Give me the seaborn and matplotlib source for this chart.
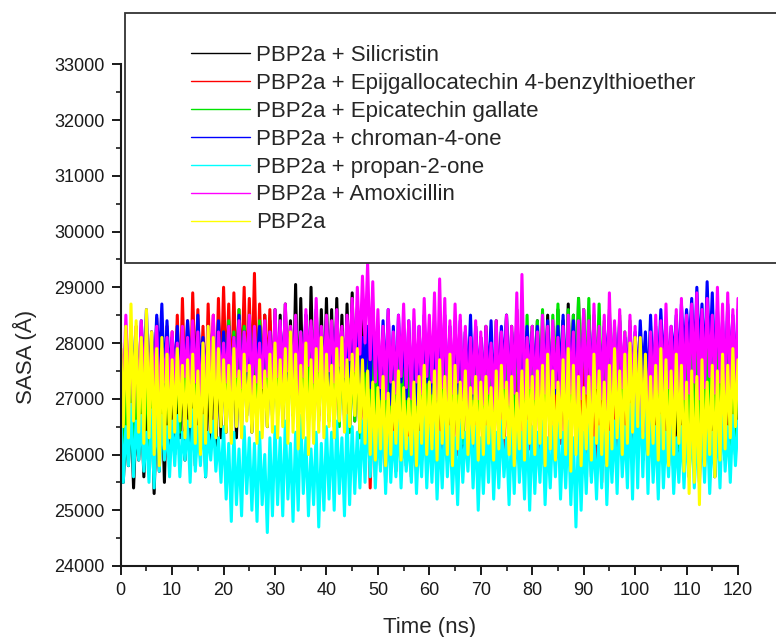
import numpy as np
import pandas as pd
import seaborn as sns
import matplotlib
matplotlib.use("Agg")
import matplotlib.pyplot as plt
from matplotlib.lines import Line2D
from matplotlib.patches import Rectangle
from matplotlib.ticker import MultipleLocator

# ---------------- data ----------------
labels = ["PBP2a + Silicristin",
          "PBP2a + Epijgallocatechin 4-benzylthioether",
          "PBP2a + Epicatechin gallate",
          "PBP2a + chroman-4-one",
          "PBP2a + propan-2-one",
          "PBP2a + Amoxicillin",
          "PBP2a"]
colors = ["#000000", "#FF0000", "#00E400", "#0000FF", "#00FFFF", "#FF00FF", "#FFFF00"]

x_ticks = list(range(0, 121, 10))
y_ticks = list(range(24000, 33001, 1000))

# each trajectory: upper excursions sampled at whole ns, lower excursions at half ns
sil_hi = [26800, 26500, 26900, 26600, 27000, 26800, 27100, 26900, 27200, 27400, 27600,
          27500, 27700, 27600, 27800, 27700, 27900, 27800, 28000, 27900, 28100,
          28000, 28200, 28100, 28300, 28200, 28400, 28300, 28500, 28400, 28600,
          28500, 28700, 28400, 29050, 28800, 28500, 29000, 28400, 28600, 28800,
          28600, 28800, 28500, 28700, 28900, 28600, 28400, 28200, 28000, 27800,
          27700, 27900, 27600, 27800, 27500, 27700, 27900, 27600, 27800, 27700,
          27900, 27700, 28000, 27800, 28100, 27900, 28200, 28000, 28300, 28100,
          28300, 28100, 28400, 28200, 28500, 28300, 28600, 28400, 28200, 28300,
          28400, 28200, 28500, 28300, 28600, 28400, 28700, 28500, 28800, 28600,
          28500, 28300, 28400, 28100, 28300, 28000, 28200, 27900, 28100, 27800,
          27700, 27500, 27800, 27600, 27400, 27700, 27500, 27300, 27600, 27400,
          27200, 27500, 27300, 27100, 27400, 27200, 27500, 27300, 27600, 27400]
sil_lo = [25500, 25800, 25400, 25900, 25600, 26000, 25300, 25700, 25500, 26100,
          26000, 26300, 25900, 26200, 25800, 26100, 25600, 26200, 26000, 26300,
          26400, 26600, 26300, 26500, 26700, 26400, 26600, 26800, 26500, 26700,
          26800, 26600, 26900, 26700, 26500, 26800, 26600, 26900, 26700, 26800,
          26900, 26700, 27000, 26800, 27100, 26900, 26700, 26500, 26300, 26100,
          26000, 26200, 25900, 26100, 26300, 26000, 26200, 25900, 26100, 26000,
          26200, 26000, 26300, 26100, 26400, 26200, 26000, 26300, 26100, 26200,
          26400, 26200, 26500, 26300, 26600, 26400, 26200, 26500, 26300, 26400,
          26600, 26400, 26700, 26500, 26800, 26600, 26400, 26700, 26500, 26600,
          26500, 26300, 26600, 26400, 26200, 26500, 26300, 26100, 26400, 26200,
          26100, 25900, 26200, 26000, 25700, 26100, 25800, 25600, 25900, 25700,
          25600, 25800, 25500, 25900, 25700, 25600, 25800, 25900, 26100, 26000]

egc_hi = [27900, 28200, 28000, 28300, 28100, 27900, 28200, 28450, 28100, 28300, 28200,
          28500, 28800, 28400, 28900, 28600, 28300, 28700, 28500, 28800, 29000,
          28700, 28900, 28600, 29000, 28800, 29250, 28700, 28500, 28600, 28300,
          28200, 28000, 28300, 28100, 27900, 28200, 28000, 28300, 28100, 27900,
          28100, 27900, 28200, 28000, 28300, 28100, 27800, 27600, 27400, 27500,
          27300, 27600, 27400, 27200, 27500, 27300, 27600, 27400, 27700, 27500,
          27800, 27600, 27900, 27700, 28000, 27800, 27600, 27900, 27700, 27800,
          28000, 27800, 28100, 27900, 27700, 28000, 27800, 28100, 27900, 28200,
          28000, 28300, 28100, 27900, 28200, 28000, 28300, 28100, 27900, 28000,
          27800, 27600, 27900, 27700, 27500, 27800, 28000, 27700, 27900, 27800,
          27600, 27900, 27700, 27500, 27800, 28000, 27700, 27900, 27600, 27800,
          27700, 27900, 27600, 27800, 28000, 27700, 27900, 27600, 27800, 27700]
egc_lo = [26200, 26500, 26300, 26600, 26400, 26700, 26500, 26800, 26600, 26900,
          27000, 26800, 27100, 26900, 27200, 27000, 26800, 27100, 26900, 27200,
          27300, 27000, 27200, 27400, 27100, 27300, 27000, 27200, 27400, 27100,
          26900, 27100, 26800, 27000, 26700, 26900, 27100, 26800, 26600, 26800,
          26700, 26500, 26800, 26600, 26400, 26600, 26300, 26000, 25400, 25600,
          25800, 25500, 25900, 25700, 26000, 25800, 25600, 26000, 25900, 26100,
          26000, 25800, 26100, 25900, 26200, 26000, 26300, 26100, 25900, 26200,
          26100, 26300, 26000, 26200, 25900, 26100, 26300, 26000, 26200, 26100,
          26200, 26000, 26300, 26100, 25900, 26200, 26000, 26300, 26100, 26000,
          25800, 25600, 25900, 25500, 25800, 25700, 26000, 26200, 26000, 26300,
          26200, 26400, 26100, 26300, 26000, 26200, 26400, 26100, 26300, 26200,
          26100, 26300, 26000, 26200, 26400, 26100, 26300, 26000, 26200, 26100]

ecg_hi = [27000, 27300, 27600, 27400, 27800, 27500, 27700, 27900, 27600, 27800, 28000,
          27900, 28100, 27800, 28000, 28200, 27900, 28100, 28300, 28000, 28200,
          28400, 28200, 28600, 28300, 28500, 28200, 28400, 28100, 28000, 28200,
          27900, 28100, 27800, 28000, 28200, 27900, 28100, 27800, 28000, 27900,
          28100, 27900, 28200, 28000, 27800, 28100, 27900, 28000, 27800, 27900,
          27700, 27900, 27600, 27800, 28000, 27700, 27900, 27600, 27800, 27700,
          27900, 27700, 28000, 27800, 27600, 27900, 27700, 28000, 27800, 27900,
          28100, 27900, 28200, 28000, 28300, 28100, 28400, 28200, 28500, 28300,
          28400, 28600, 28300, 28500, 28700, 28400, 28600, 28500, 28800, 28600,
          28800, 28500, 28700, 28400, 28600, 28300, 28500, 28200, 28400, 28100,
          28200, 28000, 28300, 28100, 27900, 28200, 28000, 28300, 28100, 27900,
          28000, 27800, 28100, 27900, 28200, 28000, 27800, 28100, 27900, 28000]
ecg_lo = [25700, 25900, 26200, 26000, 26300, 26100, 26400, 26200, 26500, 26300,
          26600, 26400, 26700, 26500, 26800, 26600, 26900, 26700, 27000, 26800,
          27100, 26900, 27200, 27000, 27300, 27100, 26900, 27200, 27000, 26800,
          26700, 26900, 26600, 26800, 26500, 26700, 26900, 26600, 26800, 26700,
          26600, 26800, 26500, 26700, 26400, 26600, 26300, 26500, 26200, 26400,
          26300, 26100, 26400, 26200, 26500, 26300, 26100, 26400, 26200, 26300,
          26400, 26200, 26500, 26300, 26100, 26400, 26200, 26500, 26300, 26400,
          26500, 26700, 26400, 26600, 26800, 26500, 26700, 26900, 26600, 26800,
          26900, 27100, 26800, 27000, 27200, 26900, 27100, 26800, 27000, 27200,
          27100, 26900, 27200, 27000, 26800, 27100, 26900, 26700, 26900, 26600,
          26500, 26700, 26400, 26600, 26300, 26500, 26200, 26400, 26100, 26300,
          26200, 26000, 26300, 26100, 26400, 26200, 26000, 26300, 26100, 26200]

chr_hi = [27600, 28100, 28300, 27900, 28400, 28600, 28200, 28500, 28700, 28400, 28100,
          28300, 28000, 28400, 28200, 28500, 28100, 28300, 28000, 28400, 28200,
          28300, 28100, 28500, 28200, 28400, 28000, 28300, 28100, 28200, 28400,
          28300, 28500, 28100, 28400, 28200, 28500, 28300, 28600, 28200, 28400,
          28300, 28500, 28200, 28400, 28600, 28300, 28100, 28300, 28500, 28200,
          28400, 28600, 28300, 28500, 28200, 28400, 28100, 28300, 28500, 28200,
          28400, 28200, 28500, 28300, 28100, 28400, 28200, 28500, 28300, 28100,
          28200, 28400, 28100, 28300, 28500, 28200, 28400, 28100, 28300, 28200,
          28300, 28100, 28400, 28200, 28300, 28500, 28200, 28400, 28100, 28300,
          28200, 28400, 28100, 28300, 28500, 28200, 28400, 28100, 28300, 28200,
          28400, 28200, 28500, 28300, 28600, 28400, 28300, 28500, 28700, 28600,
          28800, 29000, 28700, 29100, 28900, 28600, 28400, 28700, 28500, 28600]
chr_lo = [27300, 27100, 27500, 27200, 27400, 27100, 27300, 27600, 27200, 27400,
          27500, 27200, 27400, 27600, 27300, 27500, 27200, 27400, 27600, 27300,
          27400, 27200, 27500, 27300, 27100, 27400, 27600, 27300, 27500, 27200,
          27400, 27600, 27300, 27500, 27200, 27400, 27700, 27300, 27500, 27400,
          27200, 27500, 27300, 27100, 27400, 27600, 27300, 27500, 27200, 27400,
          27000, 27200, 26900, 27100, 27300, 27000, 27200, 26900, 27100, 27300,
          27100, 26900, 27200, 27000, 27300, 27100, 26900, 27200, 27000, 27300,
          27200, 27400, 27100, 27300, 27500, 27200, 27400, 27100, 27300, 27500,
          27400, 27200, 27500, 27300, 27100, 27400, 27200, 27500, 27300, 27400,
          27300, 27500, 27200, 27400, 27600, 27300, 27500, 27200, 27400, 27300,
          27200, 27400, 27100, 27300, 27500, 27600, 27400, 27700, 27500, 27800,
          27900, 27600, 27800, 27500, 27700, 27400, 27600, 27300, 27500, 27400]

pro_hi = [26800, 26500, 26900, 26600, 26700, 26400, 26800, 27000, 26700, 26500, 26600,
          26700, 26400, 26600, 26800, 26500, 26700, 26400, 26600, 26300, 26500,
          26200, 26400, 26100, 26500, 26300, 26200, 26400, 26000, 26300, 26500,
          26300, 26600, 26200, 26400, 26700, 26300, 26100, 26400, 26200, 26500,
          26400, 26600, 26300, 26700, 26500, 26400, 26600, 26800,
          26700, 26500, 26800, 26600, 26400, 26700, 26500, 26300, 26600, 26400, 26700, 26500,
          26600, 26400, 26700, 26500, 26300, 26600, 26400, 26700, 26500, 26300,
          26500, 26700, 26400, 26600, 26300, 26500, 26700, 26400, 26600, 26500,
          26400, 26600, 26300, 26500, 26700, 26400, 26600, 26300, 26500, 26400,
          26600, 26300, 26500, 26700, 26400, 26600, 26800, 26500, 26900, 27100,
          27200, 27000, 26800, 26500, 26700, 26400, 26600, 26300, 26500, 26400,
          26600, 26300, 26500, 26700, 26400, 26600, 26800, 26500, 26700, 26600]
pro_lo = [25500, 25800, 25600, 25900, 25700, 25500, 25400, 25700, 25900, 25600,
          25800, 25600, 25900, 25500, 25700, 25800, 25600, 25900, 25700, 25500,
          25200, 24800, 25100, 24900, 25300, 25000, 24800, 25100, 24600, 24900,
          25100, 24900, 25200, 24800, 25000, 25300, 24900, 25100, 24700, 25000,
          25200, 25000, 25300, 24900, 25100, 25300, 25400, 25500,
          25600, 25400, 25700, 25300, 25500, 25600, 25400, 25700, 25500, 25300, 25600, 25400,
          25500, 25200, 25400, 25600, 25300, 25100, 25500, 25700, 25400, 25000,
          25300, 25500, 25200, 25400, 25600, 25100, 25300, 25500, 25200, 25000,
          25300, 25500, 25100, 25400, 25600, 25200, 25400, 25100, 24700, 25000,
          25300, 25500, 25200, 25400, 25100, 25500, 25300, 25600, 25400, 25200,
          25400, 25600, 25300, 25500, 25200, 25400, 25600, 25300, 25500, 25400,
          25600, 25400, 25700, 25500, 25300, 25600, 25400, 25700, 25500, 25800]

amx_hi = [27800, 28500, 28100, 27900, 28400, 28200, 28000, 28300, 27900, 28100, 28200,
          28000, 28300, 28100, 28400, 28200, 28000, 28300, 28500, 28200, 28000,
          28300, 28100, 28400, 28200, 28500, 28300, 28000, 28400, 28200, 28600,
          28400, 28700, 28300, 28500, 28200, 28600, 28400, 28800, 28300, 28500,
          28400, 28600, 28300, 28500, 28800, 29000, 29200, 29430, 29100, 28600,
          28300, 28600, 28200, 28500, 28700, 28400, 28600, 28300, 28800, 28500,
          28900, 29150, 28800, 28400, 28700, 28500, 28300, 28100, 28400, 28200,
          28300, 28000, 28400, 28200, 28500, 28300, 28900, 29230, 28100, 28300,
          28200, 28500, 28300, 28400, 28100, 28300, 28500, 28200, 28400, 28600,
          28400, 28700, 28300, 28500, 28900, 28400, 28600, 28200, 28500, 28300,
          27900, 27600, 28200, 28500, 28400, 28700, 28300, 28600, 28800, 28500,
          28700, 28900, 28600, 28800, 28500, 29000, 28700, 28900, 28600, 28800]
amx_lo = [26900, 27200, 26800, 27100, 27300, 27000, 27200, 26900, 27300, 27100,
          27200, 27000, 27400, 27100, 27300, 26900, 27200, 27500, 27100, 27300,
          27300, 27100, 27400, 27200, 27500, 27000, 27300, 27200, 27400, 27100,
          27400, 27200, 27500, 27300, 27100, 27400, 27600, 27300, 27500, 27200,
          27500, 27300, 27600, 27400, 27700, 27500, 27800, 28000, 27700, 27300,
          27200, 27000, 27300, 27100, 27400, 27200, 27000, 27300, 27100, 27400,
          27300, 27000, 27200, 26900, 27100, 27300, 27000, 26800, 27100, 27000,
          26900, 27100, 26800, 27000, 27200, 26900, 27100, 26800, 27000, 27200,
          27000, 26800, 27100, 26900, 27200, 27000, 26800, 27100, 26900, 27000,
          27100, 26900, 27200, 27000, 26800, 27100, 26900, 27200, 27000, 26900,
          26600, 26400, 26700, 26900, 27100, 26900, 27200, 27000, 26800, 27000,
          27100, 27300, 27000, 27200, 27400, 27100, 27300, 27000, 27200, 27100]

apo_hi = [28000, 28300, 28700, 28400, 28100, 28600, 28200, 27900, 28100, 27800, 27700,
          27900, 27600, 27700, 27800, 27500, 28000, 28300, 28100, 27900, 27700,
          27600, 27900, 27500, 27800, 27600, 27400, 27700, 27500, 27800, 28000,
          27700, 27900, 28200, 27800, 27600, 28000, 27700, 27900, 28100, 27800,
          27600, 27900, 28100, 27700, 27800, 27900, 27700, 27500,
          27300, 27200, 27400, 27100, 27300, 27500, 27200, 27000, 27300, 27400, 27600, 27300,
          27500, 27700, 27400, 27800, 27600, 27300, 27500, 27200, 27400, 27300,
          27400, 27200, 27500, 27600, 27300, 27400, 27100, 27500, 27700, 27400,
          27500, 27600, 27800, 27500, 27300, 27700, 27900, 27600, 27400, 27200,
          27400, 27800, 27500, 27300, 27600, 27900, 27500, 27800, 28000, 28100,
          28100, 27800, 27400, 27600, 27900, 27700, 27500, 27800, 27600, 27300,
          27500, 27400, 27700, 27300, 27600, 27500, 27800, 27600, 27900, 27700]
apo_lo = [26500, 26300, 26600, 26400, 26200, 26300, 26000, 25800, 26100, 26300,
          26400, 26600, 26300, 26500, 26200, 26000, 26200, 26400, 26300, 26500,
          26400, 26200, 26500, 26300, 26600, 26400, 26200, 26300, 26500, 26400,
          26300, 26500, 26200, 26400, 26100, 26300, 26000, 26200, 26400, 26300,
          26500, 26300, 26600, 26400, 26500, 26700, 26400, 26200,
          26000, 25900, 26100, 25800, 26000, 26200, 25900, 26100, 26000, 25800, 26200, 26000,
          26100, 25900, 26200, 26000, 25800, 26100, 26300, 26000, 26200, 25900,
          26000, 26200, 25900, 26100, 26300, 26000, 25800, 26100, 25900, 26200,
          26000, 26200, 25800, 26100, 25900, 26300, 26000, 25700, 26000, 25800,
          26100, 25900, 26200, 26000, 25800, 26100, 26300, 26000, 26200, 26400,
          26500, 26300, 26000, 26200, 25900, 26100, 25800, 26000, 26200, 25700,
          25300, 25500, 25100, 25800, 26000, 25600, 25900, 26100, 26300, 26500]

series_hi = [sil_hi, egc_hi, ecg_hi, chr_hi, pro_hi, amx_hi, apo_hi]
series_lo = [sil_lo, egc_lo, ecg_lo, chr_lo, pro_lo, amx_lo, apo_lo]

# ---------------- table ----------------
frames = []
for name, hi, lo in zip(labels, series_hi, series_lo):
    t_hi = np.arange(len(hi), dtype=float)
    t_lo = np.arange(len(lo), dtype=float) + 0.5
    frames.append(pd.DataFrame({"Time": np.concatenate([t_hi, t_lo]),
                                "SASA": np.concatenate([hi, lo]),
                                "System": name}))
df = pd.concat(frames, ignore_index=True)

# ---------------- style ----------------
sns.set_style("ticks")
plt.rcParams["font.family"] = ["Liberation Sans", "DejaVu Sans"]

W, H = 776, 637
fig = plt.figure(figsize=(W / 100, H / 100), dpi=100)
ax = fig.add_axes([120.7 / W, 1 - 566 / H, (738 - 120.7) / W, (566 - 64.3) / H])

sns.lineplot(data=df, x="Time", y="SASA", hue="System", hue_order=labels,
             palette=colors, estimator=None, sort=True, linewidth=2.2,
             legend=False, ax=ax)
for ln in ax.get_lines():
    ln.set_solid_joinstyle("round")

ax.set_xlim(0, 120)
ax.set_ylim(24000, 33000)
ax.set_xticks(x_ticks)
ax.set_yticks(y_ticks)
ax.xaxis.set_minor_locator(MultipleLocator(5))
ax.yaxis.set_minor_locator(MultipleLocator(500))
sns.despine(ax=ax)
for s in ("left", "bottom"):
    ax.spines[s].set_linewidth(1.5)
    ax.spines[s].set_color("#1a1a1a")
    ax.spines[s].set_zorder(4)
ax.tick_params(which="major", direction="out", length=6.5, width=1.4,
               labelsize=13, pad=5, colors="#1a1a1a")
ax.tick_params(which="minor", direction="out", length=3.6, width=1.2, colors="#1a1a1a")
ax.set_xlabel("Time (ns)", fontsize=16)
ax.set_ylabel("SASA (Å)", fontsize=16)
ax.xaxis.set_label_coords(0.5, -(627 - 566) / (566 - 64.3), transform=ax.transAxes)
ax.yaxis.set_label_coords(-(120.7 - 25) / (738 - 120.7), (566 - 357) / (566 - 64.3))
ax.xaxis.label.set_va("center")
ax.yaxis.label.set_va("center")

# legend box (frame drawn separately, it runs past the right edge)
frame = Rectangle((124.5 / W, 1 - 263 / H), (W + 10 - 124.5) / W, (263 - 13.5) / H,
                  transform=fig.transFigure, facecolor="white", edgecolor="#333333",
                  linewidth=1.3, zorder=5, clip_on=False)
fig.patches.append(frame)

handles = [Line2D([], [], color=c, lw=1.0) for c in colors]
leg = fig.legend(handles, labels, loc="upper left",
                 bbox_to_anchor=(190.7 / W, 1 - 45 / H),
                 frameon=False, fontsize=16, borderpad=0, borderaxespad=0,
                 handlelength=2.65, handletextpad=0.3, labelspacing=0.31)
leg.set_zorder(6)

fig.savefig("out.png", dpi=100)
